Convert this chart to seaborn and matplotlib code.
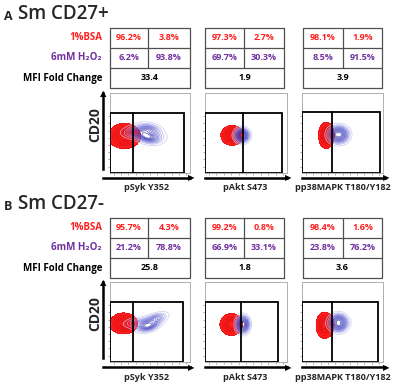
import matplotlib
matplotlib.use("Agg")
import matplotlib.pyplot as plt
import seaborn as sns
import pandas as pd
from matplotlib.colors import LinearSegmentedColormap
from matplotlib.patches import Rectangle

sns.set_theme(style="white")
plt.rcParams['font.family'] = ['Open Sans', 'DejaVu Sans']

# ---- table values ----
row_labels = ["1%BSA", "6mM H₂O₂", "MFI Fold Change"]
markers = ["pSyk Y352", "pAkt S473", "pp38MAPK T180/Y182"]
panel_titles = ["Sm CD27+", "Sm CD27-"]
panel_letters = ["A", "B"]

a_bsa = [[96.2, 3.8], [97.3, 2.7], [98.1, 1.9]]
a_h2o2 = [[6.2, 93.8], [69.7, 30.3], [8.5, 91.5]]
a_mfi = [33.4, 1.9, 3.9]
b_bsa = [[95.7, 4.3], [99.2, 0.8], [98.4, 1.6]]
b_h2o2 = [[21.2, 78.8], [66.9, 33.1], [23.8, 76.2]]
b_mfi = [25.8, 1.8, 3.6]

# ---- gates (percent of the plot range) ----
a_gate_split = [29, 46, 37]
a_gate_right = [92, 93, 96]
a_gate_top = [75, 75, 76]
b_gate_split = [29, 44, 37]
b_gate_right = [91, 89, 94]
b_gate_top = [75, 75, 75]

# ---- events (rough read of the contour shapes) ----
a_syk_bsa_x = [18, 10, 27, 18, 18, 12, 24, 12, 24]
a_syk_bsa_y = [46, 46, 46, 40, 53, 41, 41, 51, 51]
a_syk_h2o2_x = [25, 33, 40, 45, 49, 52, 55, 59, 47, 51, 43, 36]
a_syk_h2o2_y = [49, 52, 46, 55, 49, 43, 54, 46, 57, 41, 45, 53]
a_akt_bsa_x = [33, 27, 39, 33, 33, 29, 37, 29, 37]
a_akt_bsa_y = [47, 47, 47, 42, 52, 43, 43, 51, 51]
a_akt_h2o2_x = [45, 39, 51, 45, 45, 41, 49, 41, 49]
a_akt_h2o2_y = [47, 47, 47, 41, 53, 43, 43, 51, 51]
a_p38_bsa_x = [30, 26, 34, 30, 30, 27, 33, 27, 33]
a_p38_bsa_y = [47, 47, 47, 40, 54, 42, 42, 52, 52]
a_p38_h2o2_x = [45, 37, 53, 45, 45, 39, 51, 39, 51]
a_p38_h2o2_y = [48, 48, 48, 41, 55, 43, 43, 53, 53]
b_syk_bsa_x = [17, 9, 25, 17, 17, 12, 22, 12, 22]
b_syk_bsa_y = [48, 48, 48, 43, 54, 44, 44, 52, 52]
b_syk_h2o2_x = [28, 36, 42, 46, 50, 54, 58, 61, 48, 44, 55, 47]
b_syk_h2o2_y = [50, 48, 46, 45, 46, 49, 53, 57, 42, 51, 55, 44]
b_akt_bsa_x = [32, 26, 38, 32, 32, 28, 36, 28, 36]
b_akt_bsa_y = [47, 47, 47, 41, 53, 43, 43, 51, 51]
b_akt_h2o2_x = [46, 41, 51, 46, 46, 42, 50, 42, 50]
b_akt_h2o2_y = [47, 47, 47, 40, 54, 42, 42, 52, 52]
b_p38_bsa_x = [28, 24, 33, 28, 28, 25, 32, 25, 32]
b_p38_bsa_y = [46, 46, 46, 39, 53, 41, 41, 51, 51]
b_p38_h2o2_x = [45, 37, 53, 45, 45, 40, 50, 40, 50]
b_p38_h2o2_y = [49, 49, 49, 42, 56, 44, 44, 54, 54]

panels = [
    dict(bsa=a_bsa, h2o2=a_h2o2, mfi=a_mfi,
         split=a_gate_split, right=a_gate_right, top=a_gate_top,
         events=[(a_syk_bsa_x, a_syk_bsa_y, a_syk_h2o2_x, a_syk_h2o2_y),
                 (a_akt_bsa_x, a_akt_bsa_y, a_akt_h2o2_x, a_akt_h2o2_y),
                 (a_p38_bsa_x, a_p38_bsa_y, a_p38_h2o2_x, a_p38_h2o2_y)]),
    dict(bsa=b_bsa, h2o2=b_h2o2, mfi=b_mfi,
         split=b_gate_split, right=b_gate_right, top=b_gate_top,
         events=[(b_syk_bsa_x, b_syk_bsa_y, b_syk_h2o2_x, b_syk_h2o2_y),
                 (b_akt_bsa_x, b_akt_bsa_y, b_akt_h2o2_x, b_akt_h2o2_y),
                 (b_p38_bsa_x, b_p38_bsa_y, b_p38_h2o2_x, b_p38_h2o2_y)]),
]

RED = '#ff1f1f'
PURPLE = '#7030a0'
red_cmap = LinearSegmentedColormap.from_list('r', [RED, RED])
blue_cmap = LinearSegmentedColormap.from_list('fc', ['#c4c4f2', '#6a6ad6', '#3a3ab0'])

W, H = 397, 384
fig = plt.figure(figsize=(W / 100, H / 100), dpi=100)
ov = fig.add_axes([0, 0, 1, 1])
ov.set_xlim(0, W)
ov.set_ylim(H, 0)
ov.axis('off')
ov.set_zorder(5)


def axis_arrow(x0, y0, x1, y1):
    # shaft: the one visible spine of a flat helper axes; head: a triangle glyph
    if y0 == y1:
        a = fig.add_axes([x0 / W, 1 - y0 / H, (x1 - x0 - 3) / W, 0.0001])
        keep, head, ha, va = 'bottom', '▶', 'right', 'center'
    else:
        a = fig.add_axes([x0 / W, 1 - y0 / H, 0.0001, (y0 - y1 - 3) / H])
        keep, head, ha, va = 'left', '▲', 'center', 'top'
    a.patch.set_visible(False)
    a.set_xticks([])
    a.set_yticks([])
    for name, sp in a.spines.items():
        sp.set_visible(name == keep)
        sp.set_color('black')
        sp.set_linewidth(1.8)
    ov.text(x1 + (1 if y0 == y1 else 0), y1 - (0 if y0 == y1 else 1), head, family='DejaVu Sans',
            fontsize=6, ha=ha, va=va, color='black')


# layout in pixels
table_cols = [(110, 148, 190), (205, 244, 284), (303, 343, 382)]
plot_cols = [(110, 190), (205, 287), (302, 383)]
arrow_x = [(103, 193), (205, 290), (302, 388)]
offsets = [0, 190]

for p, (panel, off) in enumerate(zip(panels, offsets)):
    ov.text(4, 16 + off, panel_letters[p], fontsize=9, fontweight='bold', va='center')
    ov.text(18, 14 + off, panel_titles[p], fontsize=13.5, fontweight='semibold', va='center')
    rows = [28 + off, 48 + off, 68 + off, 88 + off]
    for r, lab in enumerate(row_labels):
        col = [RED, PURPLE, 'black'][r]
        ov.text(102, (rows[r] + rows[r + 1]) / 2, lab, color=col, fontsize=7,
                fontweight='bold', ha='right', va='center')
    for i, (l, m, rr) in enumerate(table_cols):
        lc = dict(color='#505050', lw=0.9)
        ov.plot([l, rr, rr, l, l], [rows[0], rows[0], rows[3], rows[3], rows[0]], **lc)
        ov.plot([l, rr], [rows[1], rows[1]], **lc)
        ov.plot([l, rr], [rows[2], rows[2]], **lc)
        ov.plot([m, m], [rows[0], rows[2]], **lc)
        for j in range(2):
            cx = (l + m) / 2 if j == 0 else (m + rr) / 2
            ov.text(cx, (rows[0] + rows[1]) / 2, f"{panel['bsa'][i][j]:.1f}%", color=RED,
                    fontsize=6.5, fontweight='bold', ha='center', va='center')
            ov.text(cx, (rows[1] + rows[2]) / 2, f"{panel['h2o2'][i][j]:.1f}%", color=PURPLE,
                    fontsize=6.5, fontweight='bold', ha='center', va='center')
        ov.text((l + rr) / 2, (rows[2] + rows[3]) / 2, f"{panel['mfi'][i]:.1f}",
                color='black', fontsize=6.5, fontweight='bold', ha='center', va='center')

    # contour plots
    top, bottom = 93 + off * 0.995, 173 + off * 0.995
    for i, (l, rr) in enumerate(plot_cols):
        ax = fig.add_axes([l / W, 1 - bottom / H, (rr - l) / W, (bottom - top) / H])
        rx, ry, bx, by = panel['events'][i]
        red_df = pd.DataFrame({'x': rx, 'y': ry})
        blue_df = pd.DataFrame({'x': bx, 'y': by})
        sns.kdeplot(data=red_df, x='x', y='y', ax=ax, fill=True, levels=[0.05, 1],
                    cmap=red_cmap, bw_adjust=1.5, gridsize=150)
        sns.kdeplot(data=red_df, x='x', y='y', ax=ax, levels=8, colors=['#c00000'],
                    linewidths=0.35, bw_adjust=1.5, gridsize=150, alpha=0.6)
        sns.kdeplot(data=blue_df, x='x', y='y', ax=ax, levels=13, cmap=blue_cmap,
                    linewidths=0.5, bw_adjust=1.2, gridsize=150, alpha=0.9)
        ax.add_patch(Rectangle((0.3, 0.3), panel['right'][i], panel['top'][i], fill=False,
                               ec='black', lw=1.3, zorder=4))
        ax.plot([panel['split'][i]] * 2, [0.3, panel['top'][i]], color='black', lw=1.3, zorder=4)
        ax.set_xlim(0, 100)
        ax.set_ylim(0, 100)
        ax.set_xlabel('')
        ax.set_ylabel('')
        ax.set_xticks(range(5, 100, 9))
        ax.set_yticks(range(8, 80, 9))
        ax.tick_params(length=1.5, width=0.5, color='#888888', labelleft=False,
                       labelbottom=False, left=True, bottom=True, pad=0)
        for s in ax.spines.values():
            s.set_color('#b0b0b0')
            s.set_linewidth(0.7)
        ay = bottom + 5
        x0, x1 = arrow_x[i]
        axis_arrow(x0, ay, x1, ay)
        ov.text((x0 + x1) / 2 - 2, ay + 10, markers[i], fontsize=6.5, fontweight='bold',
                ha='center', va='center')
    axis_arrow(103, bottom - 4, 103, top - 3)
    ov.text(95, (top + bottom) / 2 - 8, 'CD20', rotation=90, fontsize=10, fontweight='bold',
            ha='center', va='center')

fig.savefig('out.png', dpi=100)
